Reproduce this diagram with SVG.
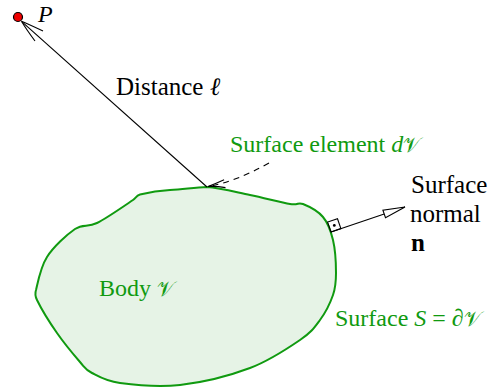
<svg xmlns="http://www.w3.org/2000/svg" width="494" height="391" viewBox="0 0 494 391">
<style>
text{font-family:"Liberation Serif","Times New Roman",serif;font-size:24px;fill:#000}
.g{fill:#109a10}
.i{font-style:italic}
.v{font-size:21px}
.b{font-size:25px}
.ln{fill:none;stroke:#000;stroke-width:1.1}
</style>
<rect width="494" height="391" fill="#fff"/>
<g id="body">
<path d="M207,187 C220.3,187.8 236.2,192.2 250,195 C263.8,197.8 281.2,202.5 290,204 C298.8,205.5 297.5,201.8 303,204 C308.5,206.2 318,211 323,217 C328,223 330.8,230.7 333,240 C335.2,249.3 336,263.8 336,273 C336,282.2 335.7,287.2 333,295 C330.3,302.8 325.5,312.5 320,320 C314.5,327.5 311.7,332 300,340 C288.3,348 270,360.5 250,368 C230,375.5 201.7,382.5 180,385 C158.3,387.5 134.7,385 120,383 C105.3,381 98.7,376.5 92,373 C85.3,369.5 85.8,368.7 80,362 C74.2,355.3 64.2,343.3 57,333 C49.8,322.7 40.5,307.2 37,300 C35,296 35,293 36,290 C37.7,282.8 40.5,267.2 47,257 C53.5,246.8 66.7,234.7 75,229 C83.3,223.3 87.3,227.8 97,223 C106.7,218.2 127,204 133,200 C136,198 136,195.5 140,194.5 C150,192 160,190.5 170,190 C185,189 195,187.5 207,187 Z" fill="#e6f3e6" stroke="#109a10" stroke-width="2"/>
<text class="g" x="99" y="296">Body <tspan class="v">𝒱</tspan></text>
<text class="g" x="335" y="326">Surface <tspan class="i">S</tspan> = ∂<tspan class="v">𝒱</tspan></text>
</g>
<g id="point">
<circle cx="18" cy="17" r="4.5" fill="#e00" stroke="#000" stroke-width="1.2"/>
<text class="i" x="38" y="22">P</text>
</g>
<g id="labels">
<text class="b" x="116" y="95">Distance <tspan class="i">ℓ</tspan></text>
<text class="g" x="230" y="152">Surface element <tspan class="i">d</tspan><tspan class="v">𝒱</tspan></text>
<text class="b" x="411" y="193">Surface</text>
<text class="b" x="410" y="222">normal</text>
<text class="b" x="411" y="251" font-weight="bold">n</text>
</g>
<g id="connectors">
<path class="ln" d="M207,187 L21.5,21.3"/>
<path class="ln" d="M43,31 Q29,24.5 21.5,21.3 M35,41 Q26,29 21.5,21.3"/>
<path class="ln" d="M269,163 Q235,182 208,186.5" stroke-dasharray="6,5"/>
<path class="ln" d="M224.1,179.8 Q215,184 208,186.5 M225.5,187.6 Q216,186 208,186.5"/>
<path class="ln" d="M331,232 L384.2,214"/>
<path class="ln" d="M405,207 L385.5,217.8 L382.9,210.2 Z"/>
<path class="ln" d="M331,232 L340.9,228.6 L337.5,218.7 L327.6,222.1 Z"/>
<circle cx="334.3" cy="225.4" r="1.4" fill="#000"/>
</g>
</svg>
